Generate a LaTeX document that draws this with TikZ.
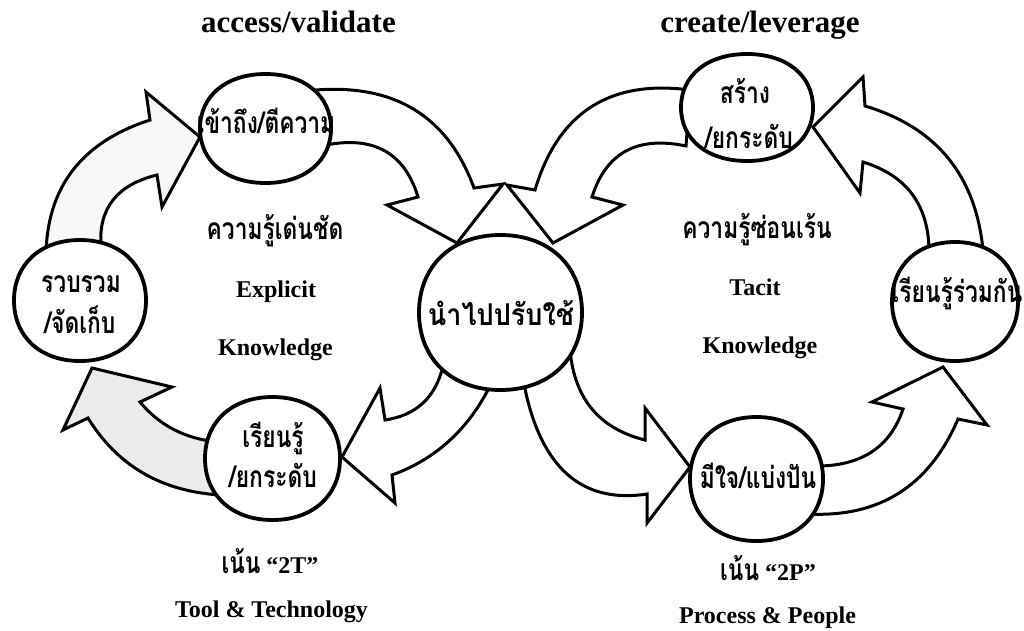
\documentclass[tikz,border=0pt]{standalone}
\usepackage{fontspec}
\setmainfont{Liberation Serif}
\newfontfamily\thai[Script=Thai, FakeStretch=0.76]{Loma}
\newfontfamily\thaiwide[Script=Thai, FakeStretch=0.9]{Loma}
\usetikzlibrary{shapes.geometric, calc}

\def\rk{0.6}
\tikzset{
  % rounded oval ring given centre (#1,#2) and radii (#3,#4)
  ringat/.style n args={4}{insert path={
    ({#1+#3},{#2}) .. controls ({#1+#3},{#2+\rk*#4}) and ({#1+\rk*#3},{#2+#4}) .. ({#1},{#2+#4})
    .. controls ({#1-\rk*#3},{#2+#4}) and ({#1-#3},{#2+\rk*#4}) .. ({#1-#3},{#2})
    .. controls ({#1-#3},{#2-\rk*#4}) and ({#1-\rk*#3},{#2-#4}) .. ({#1},{#2-#4})
    .. controls ({#1+\rk*#3},{#2-#4}) and ({#1+#3},{#2-\rk*#4}) .. ({#1+#3},{#2}) -- cycle}},
  ring/.style={draw, line width=3.8pt, fill=white},
  band/.style={draw, line width=3pt, line join=miter, fill=white},
  heading/.style={font=\bfseries\fontsize{31}{36}\selectfont, anchor=base, inner sep=0pt},
  latin/.style={font=\bfseries\fontsize{24}{28}\selectfont, anchor=base, inner sep=0pt},
  thaitxt/.style={font=\thai\bfseries\fontsize{30}{34}\selectfont, anchor=base, inner sep=0pt},
}

\begin{document}
\begin{tikzpicture}[x=1pt,y=-1pt]
\useasboundingbox (0,0) rectangle (1024,630);

% ---- block arrows of the explicit-knowledge cycle ----
% collect -> access
\draw[band, fill=black!3] (46,254)
  .. controls ($(46,254)!.667!(48,153)$) and ($(150,120)!.667!(48,153)$) .. (150,120)
  -- (146,92) -- (200,137) -- (162,207) -- (157,175)
  .. controls ($(157,175)!.667!(97,189.5)$) and ($(101,246)!.667!(97,189.5)$) .. (101,246) -- cycle;
% access -> apply
\draw[band] (316,90)
  .. controls ($(316,90)!.667!(435,81)$) and ($(474,188)!.667!(435,81)$) .. (474,188)
  -- (503,184) -- (457,243) -- (387,205) -- (418,197)
  .. controls ($(418,197)!.667!(398,131)$) and ($(326,145)!.667!(398,131)$) .. (326,145) -- cycle;
% apply -> learn
\draw[band] (443,366)
  .. controls ($(443,366)!.667!(432,413)$) and ($(385,420)!.667!(432,413)$) .. (385,420)
  -- (380,388) -- (342,457) -- (395,503) -- (392,475)
  .. controls ($(392,475)!.667!(457,451.5)$) and ($(490,386)!.667!(457,451.5)$) .. (490,386) -- cycle;
% learn -> collect
\draw[band, fill=black!8] (210,441)
  .. controls ($(210,441)!.667!(167,434.5)$) and ($(140,402)!.667!(167,434.5)$) .. (140,402)
  -- (172,387) -- (92,368) -- (63,430) -- (88,418)
  .. controls ($(88,418)!.667!(132,489.5)$) and ($(220,495)!.667!(132,489.5)$) .. (220,495) -- cycle;

% ---- block arrows of the tacit-knowledge cycle ----
% create -> apply
\draw[band] (690,90)
  .. controls ($(690,90)!.667!(569.5,74)$) and ($(535,190)!.667!(569.5,74)$) .. (535,190)
  -- (507,185) -- (553,243) -- (623,205) -- (592,197)
  .. controls ($(592,197)!.667!(613,130.5)$) and ($(686,146)!.667!(613,130.5)$) .. (686,146) -- cycle;
% apply -> share
\draw[band] (570,350)
  .. controls ($(570,350)!.667!(576.5,423)$) and ($(645,440)!.667!(576.5,423)$) .. (645,440)
  -- (645,408) -- (690,467) -- (647,523) -- (647,494)
  .. controls ($(647,494)!.667!(548.5,509)$) and ($(524,384)!.667!(548.5,509)$) .. (524,384) -- cycle;
% share -> learn together
\draw[band] (820,466)
  .. controls ($(820,466)!.667!(884.5,464.5)$) and ($(903,409)!.667!(884.5,464.5)$) .. (903,409)
  -- (872,402) -- (943,367) -- (987,425) -- (958,419)
  .. controls ($(958,419)!.667!(915,519.5)$) and ($(808,514)!.667!(915,519.5)$) .. (808,514) -- cycle;
% learn together -> create
\draw[band] (983,250)
  .. controls ($(983,250)!.667!(972,138)$) and ($(865,106)!.667!(972,138)$) .. (865,106)
  -- (863,77) -- (813,127) -- (860,193) -- (863,162)
  .. controls ($(863,162)!.667!(928,182)$) and ($(929,250)!.667!(928,182)$) .. (929,250) -- cycle;

% ---- rings ----
\path[ring, ringat={265.5}{128.5}{65.5}{54.5}];
\path[ring, ringat={80}{300.5}{66}{60.5}];
\path[ring, ringat={272.5}{458.5}{67.5}{61.5}];
\path[ring, ringat={500.5}{312.5}{81.5}{77.5}];
\path[ring, ringat={747}{107.5}{66}{53.5}];
\path[ring, ringat={955}{301.5}{63}{59.5}];
\path[ring, ringat={756.5}{479}{66.5}{62}];

% ---- ring labels ----
\node[thaitxt] (acc) at (266,133) {เข้าถึง/ตีความ};
\node[thaitxt] (col1) at (81,292) {รวบรวม};
\node[thaitxt] (col2) at (80,333) {/จัดเก็บ};
\node[thaitxt] (lrn1) at (273,447) {เรียนรู้};
\node[thaitxt] (lrn2) at (273,487) {/ยกระดับ};
\node[thaitxt, font=\thaiwide\bfseries\fontsize{30}{34}\selectfont] (app) at (501,325) {นำไปปรับใช้};
\node[thaitxt] (cre1) at (745,103) {สร้าง};
\node[thaitxt] (cre2) at (749,148) {/ยกระดับ};
\node[thaitxt] (shr) at (957,302) {เรียนรู้ร่วมกัน};
\node[thaitxt] (mij) at (758,488) {มีใจ/แบ่งปัน};

% ---- headings and captions ----
\node[heading] (hl) at (298.5,32) {access/validate};
\node[heading] (hr) at (760,32) {create/leverage};

\node[thaitxt] (exth) at (275,239) {ความรู้เด่นชัด};
\node[latin] (exen) at (276,297) {Explicit};
\node[latin] (exkn) at (275.5,355) {Knowledge};
\node[thaitxt] (tath) at (757,238) {ความรู้ซ่อนเร้น};
\node[latin] (taen) at (755,295) {Tacit};
\node[latin] (takn) at (760,353) {Knowledge};

\node[latin] (foc1) at (270,573) {{\thai\fontsize{30}{34}\selectfont เน้น} “2T”};
\node[latin] (tt) at (271.5,617) {Tool \& Technology};
\node[latin] (foc2) at (768,580) {{\thai\fontsize{30}{34}\selectfont เน้น} “2P”};
\node[latin] (pp) at (767.5,623) {Process \& People};
\end{tikzpicture}
\end{document}
